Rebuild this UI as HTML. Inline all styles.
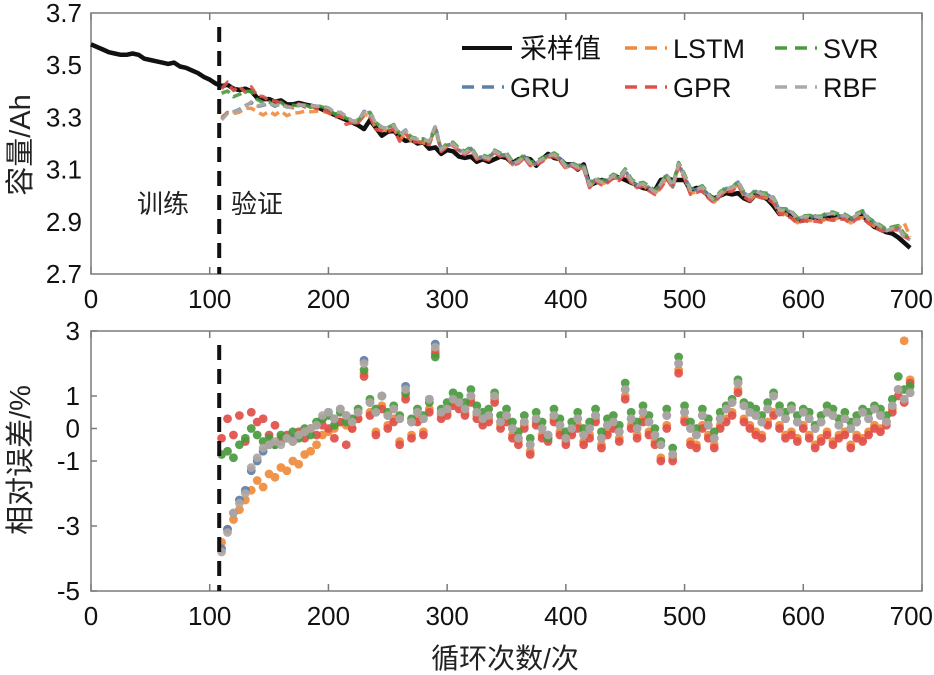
<!DOCTYPE html>
<html><head><meta charset="utf-8"><style>
html,body{margin:0;padding:0;background:#fff;}
svg{display:block;font-family:"Liberation Sans","Noto Sans CJK SC",sans-serif;}
</style></head><body>
<svg id="chart" width="934" height="675" viewBox="0 0 934 675" xmlns="http://www.w3.org/2000/svg">
<g id="topPanel"></g>
<g id="botPanel"></g>
<g id="legendGroup"></g>
</svg>
<script>
// ---------- data ----------
const capStart = 0, capStep = 5;
const capacity = [3.58,3.57,3.56,3.55,3.545,3.54,3.54,3.545,3.54,3.525,3.52,3.515,3.51,3.505,3.51,3.495,3.49,3.48,3.47,3.455,3.445,3.43,3.42,3.425,3.41,3.405,3.41,3.4,3.375,3.37,3.37,3.36,3.365,3.35,3.35,3.355,3.35,3.345,3.34,3.33,3.32,3.31,3.3,3.29,3.28,3.27,3.255,3.29,3.26,3.23,3.245,3.25,3.225,3.21,3.215,3.2,3.205,3.18,3.185,3.16,3.175,3.17,3.15,3.145,3.15,3.13,3.14,3.13,3.14,3.15,3.145,3.125,3.14,3.145,3.14,3.115,3.14,3.16,3.145,3.14,3.12,3.12,3.1,3.12,3.04,3.05,3.06,3.055,3.07,3.07,3.06,3.05,3.04,3.03,3.025,3.02,3.06,3.065,3.06,3.06,3.06,3.02,3.03,3.02,3.0,2.99,3.0,3.01,3.005,3.01,2.99,2.98,3.005,3.0,2.985,2.96,2.93,2.935,2.92,2.905,2.905,2.91,2.92,2.91,2.915,2.92,2.92,2.915,2.91,2.92,2.925,2.9,2.88,2.87,2.86,2.855,2.84,2.82,2.8];
const errStart = 110, errStep = 5;
const errLSTM = [-3.5,-3.1,-2.8,-2.5,-2.2,-1.9,-1.6,-1.8,-1.4,-1.5,-1.2,-1.3,
-1.0,-1.1,-0.8,-0.7,-0.5,-0.2,-0.1,0.0,0.2,0.1,0.0,0.3,
1.7,0.5,-0.1,0.7,0.1,0.3,-0.4,1.0,-0.2,0.3,-0.1,0.6,
2.4,0.4,0.5,0.8,0.7,0.5,0.9,0.4,0.2,0.3,0.9,0.1,
0.3,-0.2,-0.4,0.1,-0.7,0.2,-0.2,-0.3,0.3,-0.1,-0.4,-0.1,
0.1,-0.4,-0.2,0.3,-0.5,-0.1,0.1,-0.3,1.0,0.1,-0.2,0.3,
-0.1,-0.4,-0.9,0.1,-0.9,1.8,0.3,-0.4,-0.5,0.1,-0.2,-0.5,
0.1,0.3,0.5,1.2,0.3,0.1,-0.1,-0.2,0.2,0.5,0.1,-0.2,
-0.1,-0.3,0.1,-0.2,-0.5,-0.3,-0.1,-0.4,-0.2,-0.1,-0.5,-0.2,
-0.3,-0.1,0.1,0.0,0.2,0.6,1.2,2.7,1.5];
const errGRU = [-3.7,-3.1,-2.6,-2.2,-1.9,-1.3,-1.0,-0.7,-0.5,-0.5,-0.4,-0.3,
-0.3,-0.2,-0.1,0.0,0.1,0.3,0.5,0.3,0.6,0.4,0.2,0.5,
2.1,0.8,0.5,1.0,0.4,0.6,0.3,1.3,0.2,0.5,0.3,0.9,
2.6,0.5,0.6,0.9,0.8,0.6,1.0,0.5,0.3,0.4,1.0,0.2,
0.4,0.0,-0.3,0.2,-0.5,0.3,0.0,-0.2,0.4,0.1,-0.3,0.0,
0.3,-0.2,0.0,0.4,-0.3,0.1,0.2,-0.1,1.2,0.3,0.0,0.5,
0.2,-0.2,-0.5,0.4,-0.8,2.0,0.5,0.0,-0.2,0.4,0.1,-0.3,
0.3,0.6,0.8,1.4,0.7,0.5,0.4,0.2,0.6,1.0,0.5,0.3,
0.6,0.2,0.5,0.3,0.0,0.2,0.5,0.4,0.1,0.3,0.0,0.2,
0.5,0.3,0.6,0.4,0.2,0.7,1.2,0.9,1.1];
const errGPR = [-0.3,0.3,-0.2,0.4,-0.4,0.5,0.2,0.3,-0.2,0.1,-0.3,-0.2,
-0.4,-0.1,-0.3,0.0,-0.2,0.1,0.0,-0.3,0.2,-0.5,0.0,0.3,
1.6,0.4,-0.2,0.6,0.0,0.2,-0.5,0.9,-0.3,0.2,-0.2,0.5,
2.3,0.3,0.4,0.7,0.6,0.4,0.8,0.3,0.1,0.2,0.8,0.0,
0.2,-0.3,-0.5,0.0,-0.8,0.1,-0.3,-0.4,0.2,-0.2,-0.5,-0.2,
0.0,-0.5,-0.3,0.2,-0.6,-0.2,0.0,-0.4,0.9,0.0,-0.3,0.2,
-0.2,-0.5,-1.0,0.0,-1.0,1.7,0.2,-0.5,-0.6,0.0,-0.3,-0.6,
0.0,0.2,0.4,1.1,0.2,0.0,-0.2,-0.3,0.1,0.4,0.0,-0.3,
-0.2,-0.4,0.0,-0.3,-0.6,-0.4,-0.2,-0.5,-0.3,-0.2,-0.6,-0.3,
-0.4,-0.2,0.0,-0.1,0.1,0.5,1.0,0.8,1.4];
const errSVR = [-0.8,-0.7,-0.9,-0.5,-0.3,0.0,-0.2,-0.4,-0.3,-0.5,-0.2,-0.3,
-0.1,-0.3,0.0,-0.2,0.2,0.3,0.4,0.1,0.5,0.2,0.3,0.6,
1.8,0.9,0.6,1.0,0.5,0.7,0.4,1.1,0.3,0.6,0.4,0.8,
2.2,0.6,0.8,1.1,1.0,0.8,1.2,0.7,0.5,0.6,1.1,0.4,
0.6,0.2,-0.1,0.4,-0.3,0.5,0.2,-0.3,0.6,0.3,-0.1,0.2,
0.5,0.0,0.2,0.6,-0.1,0.3,0.4,0.1,1.4,0.5,0.2,0.7,
0.4,0.0,-0.4,0.6,-0.6,2.2,0.7,0.2,0.0,0.6,0.3,-0.1,
0.5,0.7,0.9,1.5,0.8,0.7,0.6,0.4,0.8,1.1,0.7,0.5,
0.7,0.4,0.6,0.5,0.1,0.4,0.7,0.6,0.3,0.5,0.2,0.4,
0.6,0.5,0.7,0.6,0.4,0.9,1.6,1.2,1.3];
const errRBF = [-3.8,-3.2,-2.6,-2.3,-2.0,-1.2,-0.9,-0.6,-0.5,-0.4,-0.5,-0.3,
-0.4,-0.2,-0.1,0.0,0.1,0.4,0.5,0.3,0.6,0.4,0.2,0.5,
2.0,0.8,0.5,1.0,0.4,0.6,0.3,1.2,0.2,0.5,0.3,0.9,
2.5,0.5,0.6,0.9,0.8,0.6,1.0,0.5,0.3,0.4,1.0,0.2,
0.4,0.0,-0.3,0.2,-0.5,0.3,0.0,-0.2,0.4,0.1,-0.3,0.0,
0.3,-0.2,0.0,0.4,-0.3,0.1,0.2,-0.1,1.2,0.3,0.0,0.5,
0.2,-0.2,-0.5,0.4,-0.8,2.0,0.5,0.0,-0.2,0.4,0.1,-0.3,
0.3,0.6,0.8,1.4,0.7,0.5,0.4,0.2,0.6,1.0,0.5,0.3,
0.6,0.2,0.5,0.3,0.0,0.2,0.5,0.4,0.1,0.3,0.0,0.2,
0.5,0.3,0.6,0.4,0.2,0.7,1.2,0.9,1.1];
const xTicks = [0,100,200,300,400,500,600,700];
const capTicks = [3.7,3.5,3.3,3.1,2.9,2.7];
const errTicks = [3,1,0,-1,-3,-5];
const splitCycle = 108;

// ---------- axes ----------
const X0=91, X1=922, T0=13, T1=274, B0=331, B1=591;
const xs = v => X0 + (v-0)/(700-0)*(X1-X0);
const ys = v => T0 + (3.7-v)/(3.7-2.7)*(T1-T0);
const ye = v => B0 + (3-v)/(3-(-5))*(B1-B0);
const NS='http://www.w3.org/2000/svg';
function mk(tag, attrs, parent){const e=document.createElementNS(NS,tag);for(const k in attrs)e.setAttribute(k,attrs[k]);parent.appendChild(e);return e;}
const gTop=document.getElementById('topPanel'), gBot=document.getElementById('botPanel'), gLeg=document.getElementById('legendGroup');
const capAt = c => capacity[Math.min(capacity.length-1, Math.round((c-capStart)/capStep))];

function frame(g,y0,y1,name){
  const r=mk('rect',{x:X0,y:y0,width:X1-X0,height:y1-y0,fill:'none',stroke:'#7a7a7a','stroke-width':1.5},g);
  
  
  xTicks.forEach((t,i)=>{
    mk('line',{x1:xs(t),x2:xs(t),y1:y1,y2:y1-7,stroke:'#7a7a7a','stroke-width':1.5},g);
    mk('line',{x1:xs(t),x2:xs(t),y1:y0,y2:y0+7,stroke:'#7a7a7a','stroke-width':1.5},g);
    const last = i===xTicks.length-1;
    const tx=mk('text',{x:last?933:xs(t),y:y1+34,'text-anchor':last?'end':'middle','font-size':26,fill:'#111'},g);
    tx.textContent=t;
    
    
  });
}
frame(gTop,T0,T1,'capacity-plot-frame');
frame(gBot,B0,B1,'error-plot-frame');
capTicks.forEach(t=>{
  const tx=mk('text',{x:82,y:ys(t)+9,'text-anchor':'end','font-size':26,fill:'#111'},gTop);
  tx.textContent=t.toFixed(1);
  
  
});
errTicks.forEach(t=>{
  mk('line',{x1:X0,x2:X0+6,y1:ye(t),y2:ye(t),stroke:'#7a7a7a','stroke-width':1.5},gBot);
  const tx=mk('text',{x:80,y:ye(t)+9,'text-anchor':'end','font-size':26,fill:'#111'},gBot);
  tx.textContent=t;
  
  
});
function label(g,txt,x,y,rot,name,size){
  const t=mk('text',{x:x,y:y,'text-anchor':'middle','font-size':size||27,fill:'#222'},g);
  if(rot) t.setAttribute('transform','rotate(-90 '+x+' '+y+')');
  t.textContent=txt;
  
  
}
label(gTop,'容量/Ah',30,145,true,'capacity-axis-title',29);
label(gBot,'相对误差/%',30,460,true,'error-axis-title',29);
label(gBot,'循环次数/次',505,668,false,'x-axis-title',28);
label(gTop,'训练',163,213,false,'train-annotation',26);
label(gTop,'验证',257,213,false,'validation-annotation',26);

// ---------- series ----------
const models=[
 {name:'lstm',err:errLSTM,color:'#ef8a3c'},
 {name:'gru',err:errGRU,color:'#5f7ea8'},
 {name:'gpr',err:errGPR,color:'#e0504a'},
 {name:'svr',err:errSVR,color:'#4a9a3e'},
 {name:'rbf',err:errRBF,color:'#b0a8a4'}
];
let d='';
capacity.forEach((v,i)=>{const c=capStart+i*capStep;d+=(i?'L':'M')+xs(c).toFixed(1)+','+ys(v).toFixed(1);});
const capLine=mk('path',{d:d,fill:'none',stroke:'#111','stroke-width':4.5,'stroke-linejoin':'round'},gTop);


models.forEach(m=>{
  let p='';
  m.err.forEach((e,i)=>{const c=errStart+i*errStep;const pv=capAt(c)*(1+e/100);p+=(i?'L':'M')+xs(c).toFixed(1)+','+ys(pv).toFixed(1);});
  const l=mk('path',{d:p,fill:'none',stroke:m.color,'stroke-width':3.5,'stroke-dasharray':'9 5','stroke-linejoin':'round',opacity:0.9},gTop);
  
  
});
models.forEach(m=>{
  const g=mk('g',{fill:m.color,opacity:0.92},gBot);
  
  
  m.err.forEach((e,i)=>{
    const c=errStart+i*errStep;
    const dot=mk('circle',{cx:xs(c),cy:ye(e),r:4.4},g);
    
    
  });
});
[[T0+14,T1],[B0+14,B1]].forEach(([a,b],k)=>{
  const l=mk('line',{x1:xs(splitCycle),x2:xs(splitCycle),y1:a,y2:b,stroke:'#111','stroke-width':4,'stroke-dasharray':'15 9'},k?gBot:gTop);
  
  
});

// ---------- legend ----------
const legItems=[
 {t:'采样值',c:'#111',x:462,y:48,dash:null,n:'legend-measured'},
 {t:'LSTM',c:'#ef8a3c',x:625,y:48,dash:'12 8',n:'legend-lstm'},
 {t:'SVR',c:'#4a9a3e',x:775,y:48,dash:'12 8',n:'legend-svr'},
 {t:'GRU',c:'#5f7ea8',x:462,y:87,dash:'12 8',n:'legend-gru'},
 {t:'GPR',c:'#e0504a',x:625,y:87,dash:'12 8',n:'legend-gpr'},
 {t:'RBF',c:'#b0a8a4',x:775,y:87,dash:'12 8',n:'legend-rbf'}
];
legItems.forEach(it=>{
  const g=mk('g',{},gLeg);
  
  
  const a={x1:it.x,x2:it.x+(it.dash?42:50),y1:it.y,y2:it.y,stroke:it.c,'stroke-width':it.dash?3.5:4};
  if(it.dash)a['stroke-dasharray']=it.dash;
  mk('line',a,g);
  const tx=mk('text',{x:it.x+(it.dash?48:58),y:it.y+10,'font-size':27,fill:'#111'},g);
  tx.textContent=it.t;
});
</script>
</body></html>
